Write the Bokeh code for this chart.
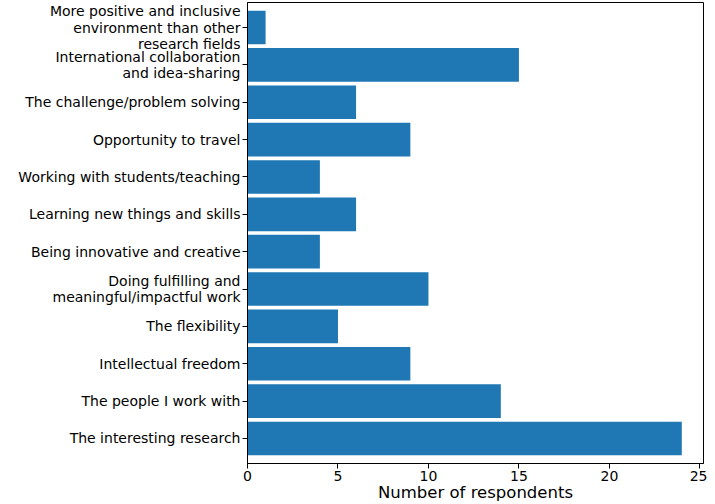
from bokeh.plotting import figure
from bokeh.models import Range1d, FixedTicker
from bokeh.embed import file_html
from bokeh.resources import INLINE

# Data (bottom to top)
categories = [
    "The interesting research",
    "The people I work with",
    "Intellectual freedom",
    "The flexibility",
    "Doing fulfilling and\nmeaningful/impactful work",
    "Being innovative and creative",
    "Learning new things and skills",
    "Working with students/teaching",
    "Opportunity to travel",
    "The challenge/problem solving",
    "International collaboration\nand idea-sharing",
    "More positive and inclusive\nenvironment than other\nresearch fields",
]
counts = [24, 14, 9, 5, 10, 4, 6, 4, 9, 6, 15, 1]
x_ticks = [0, 5, 10, 15, 20, 25]

positions = list(range(len(categories)))
FONT = "DejaVu Sans"

p = figure(width=707, height=504, output_backend="svg", toolbar_location=None,
           x_range=Range1d(0, 25.2), y_range=Range1d(-0.67, len(categories) - 1 + 0.67),
           min_border_left=247, min_border_right=4, min_border_top=2, min_border_bottom=0)

p.hbar(y=positions, right=counts, left=0, height=0.9, color="#1f77b4", line_color=None)

p.xgrid.visible = False
p.ygrid.visible = False
p.outline_line_color = "black"
p.outline_line_alpha = 1
p.outline_line_width = 1

p.yaxis.ticker = FixedTicker(ticks=positions)
p.yaxis.major_label_overrides = {i: c for i, c in zip(positions, categories)}
p.xaxis.ticker = FixedTicker(ticks=x_ticks)
p.xaxis.axis_label = "Number of respondents"

for ax in (p.xaxis, p.yaxis):
    ax.major_label_text_font = FONT
    ax.major_label_text_font_size = "14px"
    ax.major_label_text_color = "black"
    ax.major_label_text_line_height = 1.03
    ax.axis_label_text_font = FONT
    ax.axis_label_text_font_size = "16.5px"
    ax.axis_label_text_font_style = "normal"
    ax.axis_label_text_color = "black"
    ax.axis_line_color = "black"
    ax.major_tick_line_color = "black"
    ax.major_tick_out = 5
    ax.major_tick_in = 0
    ax.minor_tick_line_color = None
    ax.major_label_standoff = 2
p.xaxis.axis_label_standoff = -1

open("out.html", "w").write(file_html(p, INLINE))
